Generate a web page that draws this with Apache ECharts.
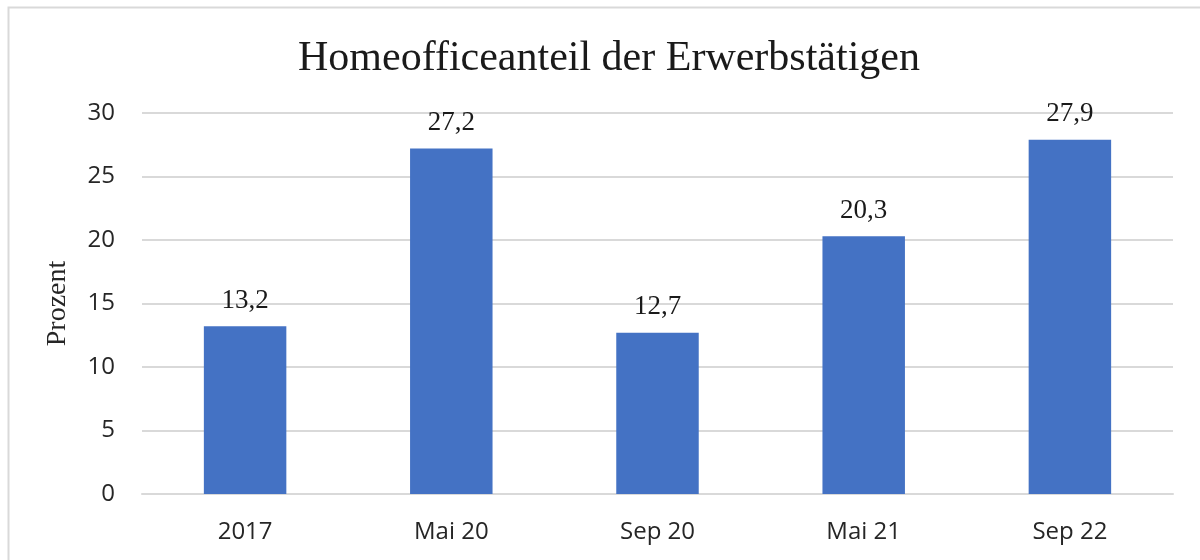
<!DOCTYPE html>
<html>
<head>
<meta charset="utf-8">
<script src="https://cdn.jsdelivr.net/npm/echarts@6/dist/echarts.min.js"></script>
<style>
	html, body { margin: 0; padding: 0; background: #fff; }
	#chart { width: 1200px; height: 560px; }
</style>
</head>
<body>
<div id="chart"></div>
<script>
	// Kategorien und Werte (Prozent)
	const categories = ["2017", "Mai 20", "Sep 20", "Mai 21", "Sep 22"];
	const values = [13.2, 27.2, 12.7, 20.3, 27.9];
	const yTicks = { min: 0, max: 30, interval: 5 };

	const serif = "'Liberation Serif', 'DejaVu Serif', serif";
	const sans = "'Open Sans', 'Noto Sans', sans-serif";

	let myChart = echarts.init(document.getElementById("chart"));

	let option = {
		animation: false,
		title: {
			text: "Homeofficeanteil der Erwerbstätigen",
			left: 604,
			top: 33,
			textAlign: "center",
			textStyle: {
				fontFamily: serif,
				fontSize: 42,
				fontWeight: "normal",
				color: "#1a1a1a"
			}
		},
		graphic: [{
			type: "rect",
			shape: { x: 8.5, y: 7.5, width: 1200, height: 600 },
			style: { fill: "none", stroke: "#d9d9d9", lineWidth: 2 },
			silent: true
		}],
		grid: {
			left: 142,
			right: 27,
			top: 113,
			bottom: 66
		},
		xAxis: {
			type: "category",
			data: categories,
			axisTick: { show: false },
			axisLine: { lineStyle: { color: "#d9d9d9", width: 2 } },
			axisLabel: {
				fontFamily: sans,
				fontSize: 24,
				color: "#262626",
				margin: 26
			}
		},
		yAxis: {
			type: "value",
			min: yTicks.min,
			max: yTicks.max,
			interval: yTicks.interval,
			name: "Prozent",
			nameLocation: "middle",
			nameGap: 70,
			nameTextStyle: {
				fontFamily: serif,
				fontSize: 28,
				color: "#262626"
			},
			axisLine: { show: false },
			axisTick: { show: false },
			splitLine: { lineStyle: { color: "#d9d9d9", width: 2 } },
			axisLabel: {
				fontFamily: sans,
				fontSize: 24,
				color: "#262626",
				margin: 27
			}
		},
		series: [{
			type: "bar",
			data: values,
			barWidth: "40%",
			itemStyle: { color: "#4472c4" },
			label: {
				show: true,
				position: "top",
				distance: 12,
				fontFamily: serif,
				fontSize: 27,
				color: "#1a1a1a",
				formatter: function(p) {
					return p.value.toFixed(1).replace(".", ",");
				}
			}
		}]
	};

	myChart.setOption(option);
</script>
</body>
</html>
